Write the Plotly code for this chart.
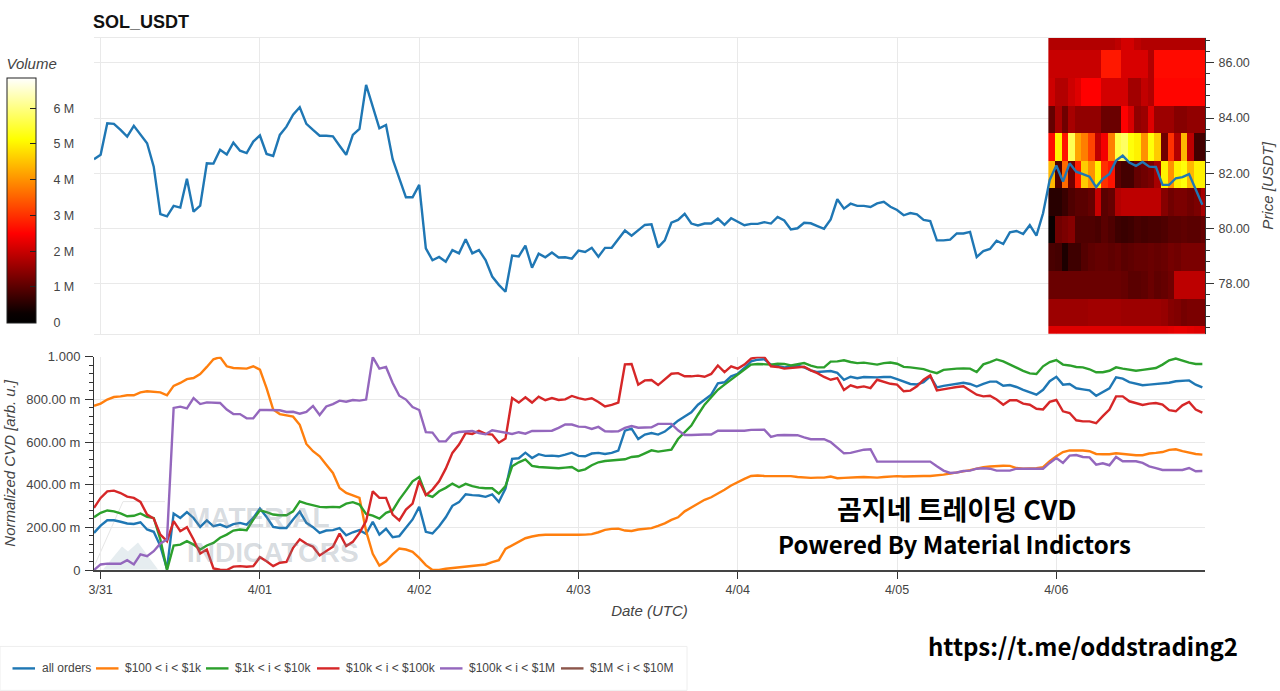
import pandas as pd
import plotly.graph_objects as go

# hourly values, starting 3/30 23:00 UTC
price = [82.51, 82.67, 83.81, 83.79, 83.57, 83.33, 83.72, 83.39, 83.09, 82.24,
         80.52, 80.44, 80.82, 80.76, 81.80, 80.61, 80.83, 82.36, 82.35, 82.85,
         82.68, 83.11, 82.82, 82.73, 83.15, 83.37, 82.70, 82.63, 83.39, 83.69,
         84.12, 84.39, 83.79, 83.57, 83.36, 83.36, 83.34, 83.00, 82.67, 83.39,
         83.61, 85.20, 84.42, 83.63, 83.75, 82.51, 81.82, 81.13, 81.13, 81.58,
         79.28, 78.85, 78.97, 78.80, 79.22, 79.10, 79.61, 79.10, 79.22, 78.86,
         78.26, 77.96, 77.71, 79.02, 78.99, 79.38, 78.58, 79.09, 78.96, 79.13,
         78.95, 78.96, 78.91, 79.20, 79.15, 79.30, 78.98, 79.30, 79.30, 79.61,
         79.93, 79.74, 79.95, 80.13, 80.15, 79.32, 79.57, 80.21, 80.31, 80.53,
         80.18, 80.11, 80.18, 80.18, 80.36, 80.13, 80.37, 80.23, 80.12, 80.17,
         80.17, 80.23, 80.18, 80.42, 80.29, 79.97, 80.01, 80.21, 80.19, 80.09,
         79.99, 80.33, 81.06, 80.72, 80.90, 80.82, 80.82, 80.78, 80.91, 80.97,
         80.79, 80.67, 80.48, 80.56, 80.51, 80.31, 80.27, 79.57, 79.57, 79.60,
         79.82, 79.82, 79.88, 78.97, 79.18, 79.26, 79.56, 79.44, 79.86, 79.91,
         79.80, 80.12, 79.74, 80.55, 81.76, 82.28, 81.70, 82.36, 82.06, 81.97,
         81.88, 81.50, 81.80, 81.98, 82.46, 82.64, 82.39, 82.27, 82.41, 82.24,
         82.23, 81.58, 81.58, 81.82, 81.86, 81.97, 81.40, 80.86]

cvd_all = [.174, .208, .233, .233, .226, .218, .216, .224, .190, .179,
           .112, .005, .265, .244, .271, .244, .202, .233, .205, .213,
           .201, .215, .221, .213, .244, .288, .249, .202, .197, .197,
           .237, .274, .221, .201, .174, .185, .187, .196, .163, .177,
           .187, .169, .226, .166, .193, .154, .159, .198, .237, .296,
           .179, .171, .205, .247, .301, .318, .355, .351, .349, .343,
           .354, .319, .382, .521, .524, .550, .525, .543, .535, .536,
           .533, .541, .550, .535, .533, .546, .549, .544, .549, .560,
           .653, .663, .614, .635, .642, .635, .649, .674, .700, .720,
           .739, .775, .799, .822, .875, .880, .908, .920, .947, .978,
           .986, .988, .963, .955, .950, .953, .958, .950, .936, .928,
           .931, .933, .924, .892, .906, .899, .905, .903, .903, .905,
           .905, .895, .885, .872, .870, .881, .908, .856, .863, .869,
           .873, .878, .872, .860, .873, .883, .883, .864, .867, .858,
           .845, .833, .822, .845, .885, .906, .869, .872, .852, .847,
           .842, .817, .834, .852, .903, .897, .881, .872, .866, .869,
           .872, .877, .878, .885, .888, .889, .869, .856]

cvd_100_1k = [.770, .780, .799, .811, .814, .819, .819, .833, .838, .835,
              .833, .819, .863, .877, .895, .900, .919, .952, .988, .998,
              .955, .947, .947, .944, .955, .939, .853, .752, .731, .725,
              .719, .681, .591, .557, .533, .494, .455, .385, .361, .350,
              .338, .182, .076, .021, .041, .073, .101, .096, .085, .057,
              .023, 0, 0, .006, .009, .013, .016, .018, .020, .026,
              .037, .046, .099, .116, .132, .149, .157, .163, .165, .165,
              .163, .162, .163, .165, .166, .168, .177, .188, .193, .194,
              .185, .183, .190, .193, .196, .207, .219, .235, .247, .275,
              .294, .313, .329, .341, .358, .376, .396, .413, .427, .441,
              .443, .441, .441, .443, .441, .440, .436, .433, .432, .433,
              .433, .438, .430, .432, .432, .435, .436, .435, .433, .436,
              .438, .440, .438, .440, .441, .441, .441, .443, .447, .452,
              .457, .461, .468, .475, .482, .485, .488, .489, .488, .478,
              .475, .475, .477, .482, .510, .533, .553, .561, .561, .560,
              .557, .544, .543, .543, .547, .543, .539, .538, .538, .546,
              .549, .553, .563, .566, .557, .549, .544, .541]

cvd_1k_10k = [.247, .268, .279, .275, .265, .252, .254, .265, .249, .244,
              .143, 0, .115, .119, .135, .119, .096, .115, .127, .151,
              .166, .185, .190, .187, .236, .280, .271, .260, .257, .257,
              .275, .322, .311, .302, .296, .294, .296, .294, .311, .318,
              .307, .263, .255, .241, .268, .279, .330, .372, .416, .436,
              .354, .343, .369, .385, .405, .388, .404, .393, .386, .383,
              .383, .358, .393, .486, .505, .518, .488, .483, .482, .479,
              .477, .480, .483, .464, .472, .491, .505, .511, .514, .518,
              .519, .530, .533, .547, .561, .555, .558, .564, .614, .647,
              .677, .728, .775, .810, .845, .869, .892, .913, .938, .963,
              .966, .966, .963, .967, .966, .959, .966, .970, .958, .950,
              .950, .977, .978, .983, .975, .970, .972, .969, .963, .970,
              .973, .967, .952, .950, .947, .942, .931, .923, .938, .942,
              .944, .945, .944, .928, .964, .975, .987, .978, .963, .947,
              .934, .922, .919, .955, .975, .984, .963, .959, .952, .950,
              .941, .927, .927, .934, .950, .944, .939, .934, .938, .944,
              .947, .963, .983, .991, .981, .972, .966, .966]

cvd_10k_100k = [.291, .338, .369, .372, .361, .344, .338, .319, .260, .241,
                .166, .135, .229, .182, .201, .143, .077, .096, .007, .001,
                0, .016, .018, .015, .018, .060, .041, .018, .034, .038,
                .104, .144, .123, .109, .068, .088, .109, .171, .112, .132,
                .174, .229, .369, .338, .338, .260, .233, .283, .311, .419,
                .351, .377, .416, .475, .549, .588, .642, .638, .653, .638,
                .635, .597, .616, .806, .785, .810, .785, .813, .796, .806,
                .797, .800, .816, .806, .799, .805, .788, .767, .774, .785,
                .964, .966, .869, .889, .891, .867, .892, .920, .923, .908,
                .908, .911, .906, .919, .959, .928, .955, .944, .963, .991,
                .998, .998, .955, .952, .944, .947, .953, .953, .936, .923,
                .905, .892, .900, .844, .866, .856, .861, .853, .892, .884,
                .873, .869, .838, .841, .861, .892, .913, .842, .849, .853,
                .858, .861, .841, .822, .814, .817, .799, .775, .796, .796,
                .780, .775, .756, .753, .788, .797, .744, .736, .702, .697,
                .697, .688, .721, .752, .814, .814, .791, .783, .774, .780,
                .783, .775, .749, .744, .772, .788, .752, .738]

cvd_100k_1m = [0, .026, .030, .029, .029, .046, .026, .073, .065, .088,
               .124, .143, .760, .766, .758, .806, .778, .786, .783, .783,
               .752, .731, .731, .711, .711, .750, .750, .750, .749, .741,
               .742, .733, .741, .769, .727, .767, .778, .794, .789, .797,
               .794, .799, .998, .944, .952, .877, .817, .799, .764, .750,
               .646, .644, .603, .603, .638, .647, .650, .652, .642, .636,
               .655, .649, .646, .638, .646, .639, .652, .652, .652, .653,
               .666, .682, .682, .672, .671, .661, .671, .650, .649, .650,
               .666, .675, .667, .667, .669, .685, .686, .685, .655, .633,
               .633, .635, .635, .635, .653, .653, .652, .652, .653, .657,
               .658, .658, .624, .632, .633, .632, .632, .622, .613, .613,
               .613, .600, .572, .547, .549, .557, .564, .566, .508, .508,
               .508, .508, .508, .508, .508, .508, .508, .486, .466, .455,
               .457, .464, .466, .475, .477, .475, .466, .466, .466, .475,
               .475, .475, .475, .475, .502, .525, .502, .536, .539, .530,
               .528, .494, .500, .491, .530, .510, .510, .510, .502, .486,
               .478, .469, .469, .469, .469, .478, .463, .464]

# the last size class has no visible line in the picture, only its legend entry
series_names = ["all orders", "$100 < i < $1k", "$1k < i < $10k", "$10k < i < $100k", "$100k < i < $1M", "$1M < i < $10M"]
series_colors = ["#1f77b4", "#ff7f0e", "#2ca02c", "#d62728", "#9467bd", "#8c564b"]

# volume heatmap, in millions, bottom row first, one column per hour
heat_prices = [75.95, 76.95, 77.95, 78.95, 79.95, 80.95, 81.95, 82.95, 83.95, 84.95, 85.95, 86.95]
heat_rows = [
    [2.2, 2.2, 2.2, 2.2, 2.2, 2.2, 2.2, 2.2, 2.2, 2.2, 2.2, 2.2, 2.2, 2.2, 2.2, 2.2, 2.2, 2.2, 2.25, 2.3, 2.3, 2.25, 2.2, 2.2],
    [1.6, 1.6, 1.6, 1.6, 1.6, 1.6, 1.65, 1.65, 1.65, 1.65, 1.65, 1.6, 1.6, 1.6, 1.6, 1.6, 1.6, 1.55, 1.4, 1.35, 1.25, 1.3, 1.3, 1.3],
    [1.15, 1.15, 1.15, 1.15, 1.15, 1.15, 1.15, 1.15, 1.15, 1.15, 1.15, 1.1, 1.0, 1.0, 1.05, 1.15, 1.05, 1.1, 1.2, 1.9, 1.9, 1.9, 1.9, 1.9],
    [.85, .8, .45, .75, .75, .95, 1.05, 1.1, 1.1, 1.05, 1.1, 1.0, 1.05, 1.1, 1.1, 1.15, 1.1, 1.15, 1.25, 1.2, 1.3, 1.3, 1.3, 1.3],
    [.25, 1.2, 1.3, 1.4, .9, .9, .9, .85, 1.0, .9, .75, .7, .75, .85, .8, .85, .85, .9, 1.0, 1.0, 1.05, 1.0, 1.0, 1.1],
    [.55, .55, .7, .9, 1.0, 1.0, 1.1, 2.0, 1.0, 1.1, 1.8, 1.9, 1.9, 1.9, 1.9, 1.9, 1.9, 1.4, 1.2, 1.3, 1.3, 1.2, 1.3, 1.7],
    [4.4, .9, 3.6, 1.2, 2.8, 4.6, 4.0, 5.0, 3.0, 2.7, 1.0, .8, .8, 1.1, 1.2, 1.3, 1.7, 5.0, 4.0, 5.0, 5.2, 4.4, 5.0, 5.0],
    [2.6, 5.0, 2.7, 5.7, 4.2, 3.8, 3.2, 1.9, 2.4, 3.8, 5.6, 5.8, 5.2, 5.0, 4.0, 5.2, 4.6, 1.2, 3.0, 1.8, 4.4, 1.9, .8, .8],
    [1.1, 1.7, 1.2, 1.7, 1.5, 1.5, 1.5, 1.5, 1.15, 1.15, 1.15, 2.5, 2.15, 1.5, 1.6, 2.2, 1.6, 1.6, 1.6, 1.4, 1.4, 1.5, 1.5, 1.5],
    [2.05, 1.8, 1.8, 2.05, 2.2, 2.5, 2.5, 2.5, 2.1, 2.1, 2.1, 2.1, 1.65, 1.65, 1.95, 1.8, 2.55, 2.55, 2.55, 2.55, 2.55, 2.55, 2.55, 2.55],
    [2.0, 2.0, 2.0, 2.0, 2.0, 2.0, 2.0, 2.0, 2.75, 2.75, 2.75, 2.15, 2.15, 2.15, 2.15, 1.8, 2.6, 2.6, 2.6, 2.6, 2.6, 2.6, 2.6, 2.6],
    [1.8, 1.8, 1.8, 1.8, 1.8, 1.8, 1.8, 1.8, 1.8, 1.8, 1.9, 2.1, 2.1, 1.9, 1.8, 1.8, 1.8, 1.8, 1.8, 1.8, 1.8, 1.8, 1.8, 1.8],
]

price_ticks = [78, 80, 82, 84, 86]
cvd_ticks = [0, .2, .4, .6, .8, 1]
cvd_labels = ["0", "200.00 m", "400.00 m", "600.00 m", "800.00 m", "1.000"]
volume_ticks = [0, 1, 2, 3, 4, 5, 6]
volume_labels = ["0", "1 M", "2 M", "3 M", "4 M", "5 M", "6 M"]
date_ticks = ["2026-03-31", "2026-04-01", "2026-04-02", "2026-04-03", "2026-04-04", "2026-04-05", "2026-04-06"]

for s in [cvd_all, cvd_100_1k, cvd_1k_10k, cvd_10k_100k, cvd_100k_1m]:
    assert len(s) == len(price), len(s)
assert len(price) == 168, len(price)

dates = pd.date_range("2026-03-30 23:00", periods=len(price), freq="h")
heat_edges = pd.date_range("2026-04-05 22:48", periods=25, freq="h")
x_range = ["2026-03-30 23:00", "2026-04-06 22:24"]

FONT = "Liberation Sans"
GREY = "#444444"
TICK = "#333333"
GRID = "#e9e9e9"
KOREAN = "Noto Sans CJK KR"
MARK = "rgba(120,135,150,0.3)"

hot = [[0, "#000000"], [.04, "#0a0000"], [.365, "#ff0000"], [.75, "#ffff00"], [1, "#ffffff"]]


# paper y from a height in the picture
def py(pixel):
    return (570.5 - pixel) / 532.5


def px(pixel):
    return (pixel - 94) / 1111


def axis_title(text, standoff):
    return dict(text=text, standoff=standoff, font=dict(family=FONT, size=15, color=GREY, style="italic"))


def note(text, x, y, anchor, font):
    return dict(text=text, x=px(x), y=py(y), xref="paper", yref="paper", xanchor=anchor, yanchor="middle",
                showarrow=False, font=font)


fig = go.Figure()

fig.add_trace(go.Heatmap(
    x=heat_edges, y=heat_prices, z=heat_rows, zmin=0, zmax=6.85, colorscale=hot, xaxis="x", yaxis="y",
    hoverinfo="skip", showlegend=False,
    colorbar=dict(
        x=px(7), xanchor="left", xpad=0,
        y=py(323), yanchor="bottom", ypad=0,
        len=267, lenmode="pixels", thickness=29, thicknessmode="pixels",
        outlinecolor="#222222", outlinewidth=1,
        tickmode="array", tickvals=volume_ticks, ticktext=["\u00a0" * 4 + t for t in volume_labels],
        ticks="inside", ticklen=6, tickcolor="#222222",
        tickfont=dict(family=FONT, size=12.5, color=GREY),
        title=dict(text="Volume", side="top", font=dict(family=FONT, size=15, color=GREY, style="italic")),
    ),
))

fig.add_trace(go.Scatter(x=dates, y=price, mode="lines", line=dict(color=series_colors[0], width=2.4),
                         xaxis="x", yaxis="y", showlegend=False))

cvd_series = [cvd_all, cvd_100_1k, cvd_1k_10k, cvd_10k_100k, cvd_100k_1m]
for name, color, values in zip(series_names, series_colors, cvd_series):
    fig.add_trace(go.Scatter(x=dates, y=values, mode="lines", name=name, line=dict(color=color, width=2.4),
                             xaxis="x2", yaxis="y2", showlegend=False))

# faint logo behind the watermark
logo_points = [(103, 570), (122, 547), (128, 552), (138, 543), (158, 570)]
logo_path = "M " + " L ".join(f"{px(a):.4f},{py(b):.4f}" for a, b in logo_points) + " Z"
frame_points = [(95, 565), (123, 502), (165, 502)]
frame_path = "M " + " L ".join(f"{px(a):.4f},{py(b):.4f}" for a, b in frame_points)

shapes = [
    dict(type="path", xref="paper", yref="paper", path=logo_path, fillcolor="#e6edf0", line=dict(width=0), layer="below"),
    dict(type="path", xref="paper", yref="paper", path=frame_path, line=dict(color="#e6e6e6", width=1), layer="below"),
    dict(type="rect", xref="paper", yref="paper", x0=px(0), x1=px(687), y0=py(691), y1=py(647),
         fillcolor="white", line=dict(color="#eeeeee", width=1)),
]
annotations = [
    note("<b>MATERIAL</b>", 185, 518, "left", dict(family=FONT, size=28, color=MARK)),
    note("<b>INDICATORS</b>", 185, 553, "left", dict(family=FONT, size=28, color=MARK)),
    note("<b>곰지네 트레이딩 CVD</b>", 957, 508.5, "center", dict(family=KOREAN, size=27, color="black")),
    note("<b>Powered By Material Indictors</b>", 954, 544, "center", dict(family=KOREAN, size=24, color="black")),
    note("<b>https://t.me/oddstrading2</b>", 1083, 646, "center", dict(family=KOREAN, size=24, color="black")),
]

# the legend in the picture is tighter than a plotly legend can be, its key lines are shorter
legend_line_x = [12.5, 96, 206, 317, 440, 561]
for name, color, start in zip(series_names, series_colors, legend_line_x):
    shapes.append(dict(type="line", xref="paper", yref="paper", x0=px(start), x1=px(start + 22.5), y0=py(669), y1=py(669),
                       line=dict(color=color, width=2.4)))
    annotations.append(note(name, start + 27, 669, "left", dict(family=FONT, size=12, color=GREY)))

fig.update_layout(
    width=1280, height=691,
    margin=dict(l=94, r=75, t=38, b=120.5, pad=0, autoexpand=False),
    paper_bgcolor="white", plot_bgcolor="white",
    font=dict(family=FONT, size=12, color=GREY),
    showlegend=False,
    title=dict(text="<b>SOL_USDT</b>", x=93 / 1280, xanchor="left", y=1 - 22 / 691, yanchor="middle",
               font=dict(family=FONT, size=18, color="#111111")),
    xaxis=dict(domain=[0, 1], range=x_range, type="date", anchor="y", tickvals=date_ticks, showticklabels=False,
               ticks="", showgrid=True, gridcolor=GRID, gridwidth=1.4, showline=True, linecolor=GRID, mirror=True,
               zeroline=False),
    yaxis=dict(domain=[py(334), 1], range=[76.19, 86.9], side="right", anchor="x", tickvals=price_ticks,
               tickformat=".2f", ticks="outside", ticklen=8, tickcolor=TICK, showline=True, linecolor=TICK,
               ticklabelstandoff=2,
               minor=dict(dtick=.4, tick0=76, ticks="outside", ticklen=4, tickcolor=TICK, showgrid=False),
               showgrid=True, gridcolor=GRID, gridwidth=1.4, zeroline=False,
               tickfont=dict(family=FONT, size=12.5, color=GREY),
               title=axis_title("Price [USDT]", 13)),
    xaxis2=dict(domain=[0, 1], range=x_range, type="date", anchor="y2", tickvals=date_ticks, tickformat="%-m/%d",
                ticks="outside", ticklen=7, tickcolor=TICK, showline=True, linecolor=GREY, linewidth=1.5,
                showgrid=True, gridcolor=GRID, gridwidth=1.4, zeroline=False,
                tickfont=dict(family=FONT, size=12.5, color=GREY),
                title=axis_title("Date (UTC)", 10)),
    yaxis2=dict(domain=[0, py(357)], range=[0, 1], anchor="x2", tickmode="array", tickvals=cvd_ticks, ticktext=cvd_labels,
                ticks="outside", ticklen=8, tickcolor=TICK, showline=True, linecolor=TICK, ticklabelstandoff=2,
                minor=dict(dtick=.04, tick0=0, ticks="outside", ticklen=4, tickcolor=TICK, showgrid=False),
                showgrid=True, gridcolor=GRID, gridwidth=1.4, zeroline=False,
                tickfont=dict(family=FONT, size=13, color=GREY),
                title=axis_title("Normalized CVD [arb. u.]", 6)),
    shapes=shapes,
    annotations=annotations,
)

# the page's default body margin would push the chart off its place
fig.write_html("out.html", config={"displayModeBar": False}, post_script="document.body.style.margin = '0';")
